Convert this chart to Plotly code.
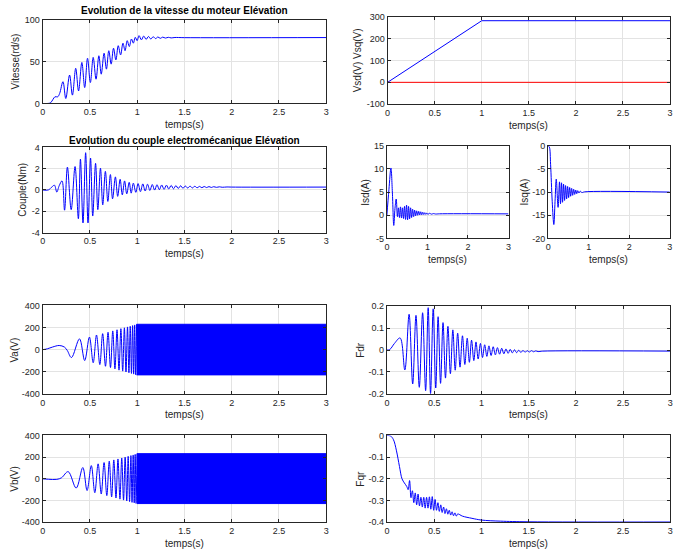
import plotly.graph_objects as go

W, H = 681, 556

# ---------------- data ----------------
speed_t = [0, 0.06, 0.085, 0.11, 0.13, 0.16, 0.18, 0.215, 0.245, 0.285, 0.315, 0.35, 0.38, 0.415, 0.445,
           0.475, 0.505, 0.535, 0.565, 0.595, 0.62, 0.65, 0.675, 0.70, 0.725, 0.75, 0.775, 0.80, 0.825,
           0.85, 0.872, 0.895, 0.917, 0.94, 0.96, 0.98, 1.0, 1.02, 1.045, 1.07, 1.095, 1.12, 1.145, 1.17,
           1.195, 1.22, 1.245, 1.27, 1.3, 1.33, 1.36, 1.4, 1.5, 3.0]
speed_v = [0, 0.1, 1.0, 5, 8, 8, 12, 26, 6, 34, 10, 42, 15, 49, 19,
           54, 25, 55, 29, 57, 35, 60, 41, 63, 47, 66, 52, 69, 58,
           72, 63, 75, 68, 77, 72, 79, 75, 81, 76, 80.5, 76.5, 80, 77, 79.7,
           77.5, 79.4, 77.8, 79.2, 78.1, 79.0, 78.3, 78.8, 78.6, 78.7]

vs_t = [0, 1, 3]
vsq_v = [0, 282, 282]
vsd_t = [0, 3]
vsd_v = [0, 0]

couple_t = [0, 0.06, 0.1, 0.125, 0.15, 0.175, 0.205, 0.232, 0.262, 0.302, 0.343, 0.378, 0.40, 0.427,
            0.455, 0.48, 0.507, 0.53, 0.56, 0.584, 0.612, 0.636, 0.664, 0.69, 0.717, 0.74, 0.77, 0.794,
            0.82, 0.843, 0.867, 0.89, 0.916, 0.937, 0.96, 0.986, 1.01, 1.035, 1.06, 1.085, 1.11, 1.135,
            1.16, 1.185, 1.21, 1.235, 1.26, 1.285, 1.31, 1.335, 1.36, 1.385, 1.41, 1.435, 1.46, 1.485,
            1.51, 1.535, 1.56, 1.585, 1.61, 1.635, 1.66, 1.685, 1.71, 1.735, 1.76, 1.785, 1.81, 1.84,
            1.87, 1.9, 1.95, 2.0, 3.0]
couple_v = [0, 0, 0.3, 0.45, -0.2, 0.4, 0.85, -1.9, 2.15, -1.85, 2.2, -2.7, 2.9, -3.1,
            3.5, -3.1, 3.0, -2.45, 2.5, -1.85, 2.05, -1.4, 1.75, -1.08, 1.45, -0.83, 1.23, -0.6,
            1.0, -0.46, 0.85, -0.37, 0.72, -0.3, 0.64, -0.22, 0.6, -0.16, 0.57, -0.1, 0.54, -0.05,
            0.51, -0.01, 0.49, 0.03, 0.47, 0.06, 0.45, 0.09, 0.43, 0.11, 0.41, 0.14, 0.39, 0.16,
            0.37, 0.18, 0.36, 0.19, 0.345, 0.205, 0.335, 0.215, 0.325, 0.225, 0.315, 0.235, 0.305, 0.245,
            0.295, 0.255, 0.28, 0.27, 0.27]

isd_t = [0, 0.05, 0.1, 0.135, 0.17, 0.2, 0.23, 0.26, 0.285, 0.31, 0.335, 0.36, 0.385, 0.41, 0.435,
         0.46, 0.485, 0.51, 0.535, 0.56, 0.585, 0.61, 0.635, 0.66, 0.685, 0.71, 0.735, 0.76, 0.785, 0.81,
         0.835, 0.86, 0.885, 0.91, 0.935, 0.96, 0.985, 1.01, 1.05, 1.1, 1.15, 1.2, 1.3, 3.0]
isd_v = [0, 5.5, 10.2, 5, -2.2, 1.5, 3.5, -0.3, 1.6, -0.5, 1.8, -0.6, 1.6, -0.7, 1.9,
         -0.9, 2.2, -1.0, 1.9, -0.8, 1.6, -0.5, 1.3, -0.3, 1.1, -0.1, 0.95, 0.0, 0.85, 0.05,
         0.75, 0.1, 0.65, 0.15, 0.55, 0.18, 0.5, 0.2, 0.42, 0.24, 0.36, 0.27, 0.31, 0.3]

isq_t = [0, 0.03, 0.06, 0.1, 0.14, 0.17, 0.2, 0.245, 0.28, 0.305, 0.33, 0.355, 0.38, 0.405, 0.43, 0.455,
         0.48, 0.505, 0.53, 0.555, 0.58, 0.605, 0.63, 0.655, 0.68, 0.705, 0.73, 0.76, 0.79, 0.83, 0.9, 3.0]
isq_v = [0, -0.3, -4, -12, -17, -12, -7.2, -13.3, -7.8, -12.5, -8.0, -12.2, -8.3, -11.8, -8.6, -11.5,
         -8.8, -11.2, -9.0, -10.9, -9.2, -10.7, -9.4, -10.5, -9.55, -10.35, -9.7, -10.2, -9.8, -10.1, -9.95, -10.0]

va_t = [0, 0.05, 0.105, 0.175, 0.23, 0.26, 0.305, 0.39, 0.445, 0.495, 0.535, 0.57, 0.605, 0.635, 0.665,
        0.692, 0.718, 0.742, 0.765, 0.787, 0.808, 0.828, 0.847, 0.865, 0.882, 0.898, 0.913, 0.927, 0.94,
        0.952, 0.963, 0.974, 0.984, 0.994]
va_v = [0, 8, 24, 38, 24, -6, -71, 98, -98, 114, -118, 133, -135, 145, -150,
        158, -162, 170, -174, 180, -185, 190, -194, 198, -202, 206, -209, 212, -215,
        218, -221, 224, -226, 230]
va_band_t = [0.994, 3.0]
va_band_hi = [230, 230]
va_band_lo = [-228, -228]

vb_t = [0, 0.06, 0.15, 0.2, 0.27, 0.355, 0.425, 0.47, 0.515, 0.552, 0.587, 0.62, 0.65, 0.679, 0.705,
        0.73, 0.753, 0.776, 0.797, 0.818, 0.837, 0.856, 0.873, 0.89, 0.905, 0.92, 0.934, 0.946, 0.958,
        0.969, 0.979, 0.989, 0.998]
vb_v = [0, -4, -5, 10, 66, -85, 104, -108, 122, -128, 138, -140, 150, -155, 163,
        -167, 174, -177, 183, -187, 192, -196, 200, -204, 207, -210, 214, -217, 220,
        -222, 225, -227, 232]
vb_band_t = [0.998, 3.0]
vb_band_hi = [232, 232]
vb_band_lo = [-228, -228]

fdr_t = [0, 0.03, 0.08, 0.14, 0.19, 0.235, 0.273, 0.308, 0.343, 0.378, 0.41, 0.437, 0.462, 0.49, 0.517,
         0.542, 0.568, 0.594, 0.62, 0.646, 0.672, 0.698, 0.723, 0.749, 0.774, 0.80, 0.825, 0.85, 0.873,
         0.896, 0.92, 0.943, 0.966, 0.99, 1.012, 1.035, 1.058, 1.08, 1.103, 1.125, 1.148, 1.17, 1.193,
         1.215, 1.238, 1.26, 1.283, 1.305, 1.328, 1.35, 1.373, 1.395, 1.418, 1.44, 1.463, 1.485, 1.508,
         1.53, 1.553, 1.575, 1.6, 1.65, 3.0]
fdr_v = [0, 0.002, 0.03, 0.055, -0.091, 0.163, -0.155, 0.158, -0.17, 0.17, -0.185, 0.193, -0.198, 0.188, -0.173,
         0.152, -0.152, 0.125, -0.128, 0.108, -0.108, 0.092, -0.092, 0.077, -0.078, 0.065, -0.066, 0.054, -0.056,
         0.045, -0.048, 0.037, -0.041, 0.03, -0.034, 0.024, -0.029, 0.019, -0.025, 0.015, -0.022, 0.011, -0.019,
         0.008, -0.017, 0.005, -0.015, 0.003, -0.013, 0.001, -0.012, -0.001, -0.011, -0.002, -0.01, -0.003, -0.009,
         -0.003, -0.008, -0.004, -0.007, -0.005, -0.005]

fqr_t = [0, 0.04, 0.07, 0.1, 0.133, 0.16, 0.185, 0.21, 0.225, 0.24, 0.255, 0.27, 0.285, 0.3, 0.315, 0.33,
         0.345, 0.36, 0.375, 0.39, 0.405, 0.42, 0.435, 0.45, 0.465, 0.48, 0.495, 0.51, 0.525, 0.54, 0.555,
         0.57, 0.585, 0.6, 0.615, 0.63, 0.645, 0.66, 0.675, 0.69, 0.705, 0.72, 0.735, 0.75, 0.8, 0.9, 1.0,
         1.2, 1.5, 3.0]
fqr_v = [0, -0.003, -0.02, -0.068, -0.143, -0.2, -0.219, -0.235, -0.25, -0.208, -0.287, -0.255, -0.31, -0.265,
         -0.32, -0.27, -0.325, -0.285, -0.33, -0.285, -0.335, -0.285, -0.335, -0.283, -0.34, -0.282, -0.345,
         -0.295, -0.345, -0.31, -0.35, -0.32, -0.355, -0.33, -0.36, -0.338, -0.363, -0.345, -0.367, -0.352,
         -0.37, -0.357, -0.372, -0.362, -0.372, -0.382, -0.39, -0.395, -0.398, -0.399]

# tick labels
x_ticks_wide = [0, 0.5, 1, 1.5, 2, 2.5, 3]
x_ticks_narrow = [0, 1, 2, 3]
speed_ticks = [0, 50, 100]
vs_ticks = [-100, 0, 100, 200, 300]
couple_ticks = [-4, -2, 0, 2, 4]
isd_ticks = [-5, 0, 5, 10, 15]
isq_ticks = [-20, -15, -10, -5, 0]
v_ticks = [-400, -200, 0, 200, 400]
fdr_ticks = [-0.2, -0.1, 0, 0.1, 0.2]
fqr_ticks = [-0.4, -0.3, -0.2, -0.1, 0]

# ---------------- layout ----------------
BLUE = "#0000ff"
RED = "#ff0000"
FONT = "Liberation Sans, Arial, sans-serif"
AXC = "#262626"

panels = [
    dict(px=(40, 326), py=(15, 100.3), xt=x_ticks_wide, yr=[0, 100], yt=speed_ticks,
         ylab="Vitesse(rd/s)", ylx=13),
    dict(px=(388, 673), py=(12, 101), xt=x_ticks_wide, yr=[-100, 300], yt=vs_ticks,
         ylab="Vsd(V) Vsq(V)", ylx=358),
    dict(px=(40, 326), py=(145, 231.7), xt=x_ticks_wide, yr=[-4, 4], yt=couple_ticks,
         ylab="Couple(Nm)", ylx=20),
    dict(px=(387.3, 510), py=(143.3, 237.7), xt=x_ticks_narrow, yr=[-5, 15], yt=isd_ticks,
         ylab="Isd(A)", ylx=365),
    dict(px=(550, 672.7), py=(143.3, 237.7), xt=x_ticks_narrow, yr=[-20, 0], yt=isq_ticks,
         ylab="Isq(A)", ylx=526),
    dict(px=(40, 326), py=(306, 396), xt=x_ticks_wide, yr=[-400, 400], yt=v_ticks,
         ylab="Va(V)", ylx=12),
    dict(px=(387.3, 673.3), py=(306.7, 396), xt=x_ticks_wide, yr=[-0.2, 0.2], yt=fdr_ticks,
         ylab="Fdr", ylx=360),
    dict(px=(40, 326), py=(438.3, 526.7), xt=x_ticks_wide, yr=[-400, 400], yt=v_ticks,
         ylab="Vb(V)", ylx=12),
    dict(px=(387.3, 673.3), py=(438.3, 526.7), xt=x_ticks_wide, yr=[-0.4, 0], yt=fqr_ticks,
         ylab="Fqr", ylx=361),
]

fig = go.Figure()
layout = dict(width=W, height=H, margin=dict(l=0, r=0, t=0, b=0),
              paper_bgcolor="white", plot_bgcolor="white", showlegend=False,
              font=dict(family=FONT, size=9, color=AXC))
annotations = []


def fmt(v):
    return f"{v:g}"


for i, p in enumerate(panels, start=1):
    xa = "xaxis" if i == 1 else f"xaxis{i}"
    ya = "yaxis" if i == 1 else f"yaxis{i}"
    common = dict(showgrid=True, gridcolor="#e3e3e3", gridwidth=1, zeroline=False,
                  showline=True, linecolor=AXC, linewidth=1, mirror="ticks",
                  ticks="inside", ticklen=3, tickcolor=AXC, tickwidth=1,
                  tickfont=dict(family=FONT, size=9, color=AXC))
    layout[xa] = dict(domain=[p["px"][0] / W, p["px"][1] / W], range=[0, 3],
                      anchor=f"y{i}" if i > 1 else "y",
                      tickvals=p["xt"], ticktext=[fmt(v) for v in p["xt"]], **common)
    layout[ya] = dict(domain=[1 - p["py"][1] / H, 1 - p["py"][0] / H], range=p["yr"],
                      anchor=f"x{i}" if i > 1 else "x",
                      tickvals=p["yt"], ticktext=[fmt(v) for v in p["yt"]], **common)
    cx = (p["px"][0] + p["px"][1]) / 2
    cy = (p["py"][0] + p["py"][1]) / 2
    xly = p["py"][1] + 21.5
    annotations.append(dict(text="temps(s)", x=cx / W, y=1 - xly / H, xref="paper", yref="paper",
                            xanchor="center", yanchor="middle", showarrow=False,
                            font=dict(family=FONT, size=10, color=AXC)))
    annotations.append(dict(text=p["ylab"], x=p["ylx"] / W, y=1 - cy / H, xref="paper", yref="paper",
                            xanchor="center", yanchor="middle", showarrow=False, textangle=-90,
                            font=dict(family=FONT, size=10, color=AXC)))

annotations.append(dict(text="<b>Evolution de la vitesse du moteur Elévation</b>", x=183 / W, y=1 - 6 / H,
                        xref="paper", yref="paper", xanchor="center", yanchor="middle", showarrow=False,
                        font=dict(family=FONT, size=10, color="black")))
annotations.append(dict(text="<b>Evolution du couple electromécanique Elévation</b>", x=183 / W, y=1 - 137.5 / H,
                        xref="paper", yref="paper", xanchor="center", yanchor="middle", showarrow=False,
                        font=dict(family=FONT, size=10, color="black")))
layout["annotations"] = annotations


def ax(i):
    return ("x" if i == 1 else f"x{i}"), ("y" if i == 1 else f"y{i}")


def curve(i, t, v, color=BLUE, spline=True):
    xr, yr = ax(i)
    line = dict(color=color, width=1, shape="spline" if spline else "linear")
    if spline:
        line["smoothing"] = 1.0
    fig.add_trace(go.Scatter(x=t, y=v, mode="lines", xaxis=xr, yaxis=yr, line=line, hoverinfo="skip"))


def band(i, t, hi, lo):
    xr, yr = ax(i)
    fig.add_trace(go.Scatter(x=t, y=hi, mode="lines", xaxis=xr, yaxis=yr,
                             line=dict(color=BLUE, width=1), hoverinfo="skip"))
    fig.add_trace(go.Scatter(x=t, y=lo, mode="lines", xaxis=xr, yaxis=yr, fill="tonexty",
                             fillcolor=BLUE, line=dict(color=BLUE, width=1), hoverinfo="skip"))


curve(1, speed_t, speed_v)
curve(2, vs_t, vsq_v, BLUE, spline=False)
curve(2, vsd_t, vsd_v, RED, spline=False)
curve(3, couple_t, couple_v)
curve(4, isd_t, isd_v)
curve(5, isq_t, isq_v)
curve(6, va_t, va_v)
band(6, va_band_t, va_band_hi, va_band_lo)
curve(7, fdr_t, fdr_v)
curve(8, vb_t, vb_v)
band(8, vb_band_t, vb_band_hi, vb_band_lo)
curve(9, fqr_t, fqr_v)

fig.update_layout(**layout)
fig.write_html("out.html")
